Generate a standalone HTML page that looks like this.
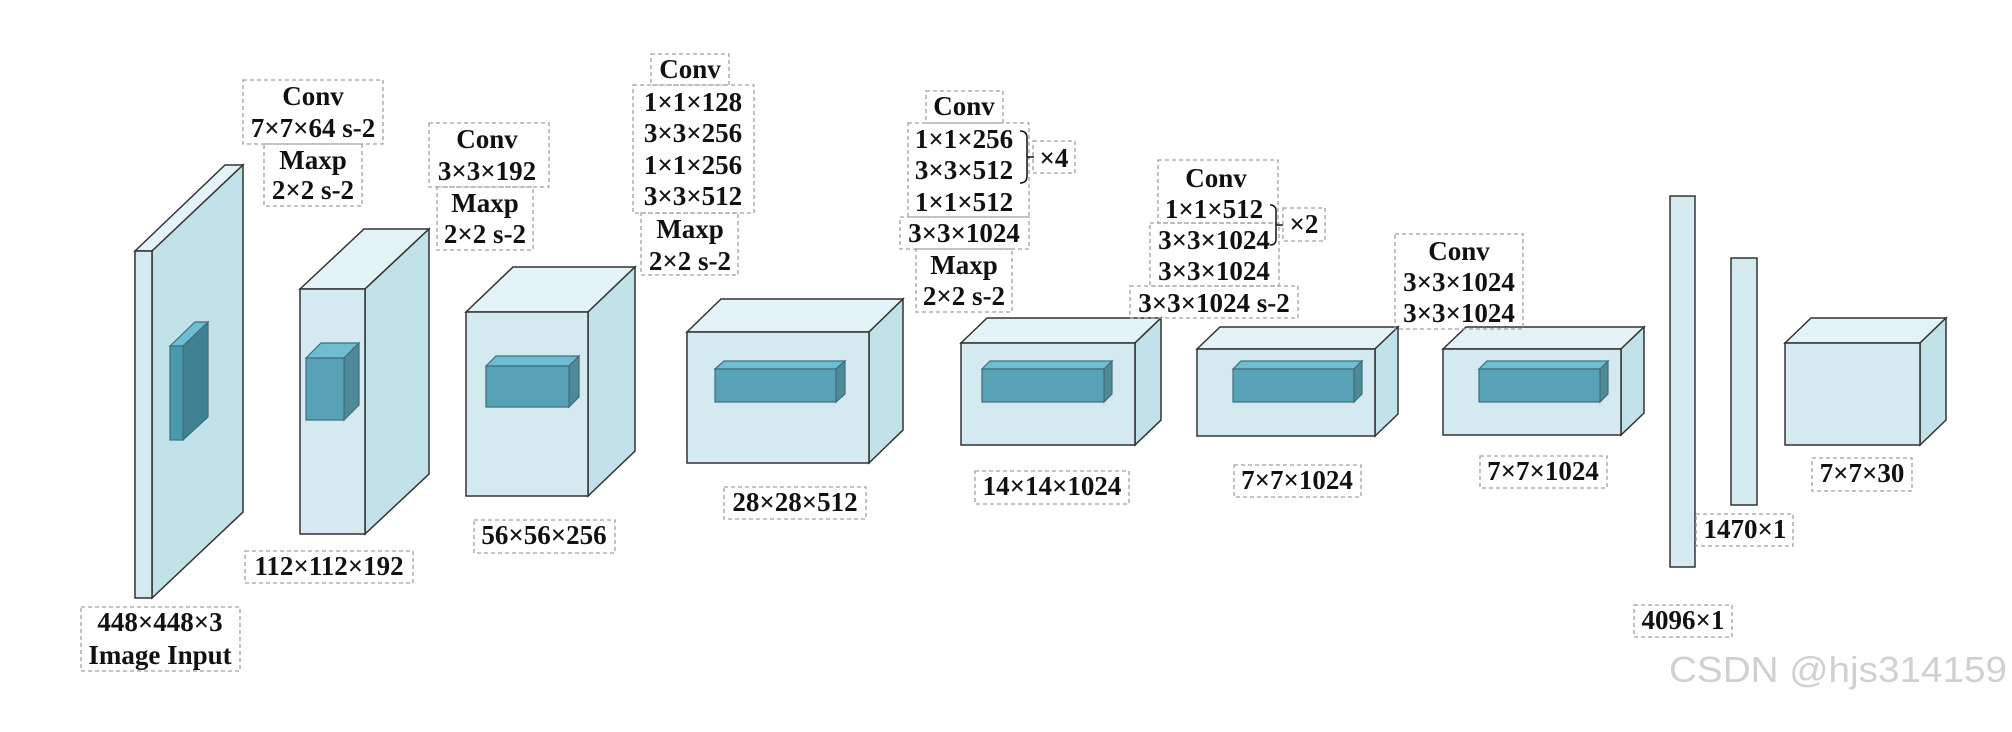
<!DOCTYPE html>
<html><head><meta charset="utf-8"><style>body{margin:0;background:#fff}svg{display:block}</style></head><body>
<svg width="2012" height="732" xmlns="http://www.w3.org/2000/svg">
<defs><style>
.t{font-family:"Liberation Serif",serif;font-weight:bold;font-size:27px;fill:#111;text-anchor:middle}
.d{fill:none;stroke:#a0a0a0;stroke-width:1.3;stroke-dasharray:4 3}
.f{fill:#d4eaf0;stroke:#333;stroke-width:1.5}
.tp{fill:#e4f3f7;stroke:#333;stroke-width:1.5}
.sd{fill:#c2e2e9;stroke:#333;stroke-width:1.5}
.if{fill:#57a2b6;stroke:#3d6f7c;stroke-width:1.2}
.it{fill:#6fbdd2;stroke:#3d6f7c;stroke-width:1.2}
.is{fill:#4e8a98;stroke:#3d6f7c;stroke-width:1.2}
</style></defs>
<g id="cubes"></g>
<!-- Block1 -->
<polygon class="tp" points="135,251 225,165 243,165 152,251"/>
<polygon class="sd" points="152,251 243,165 243,512 152,598"/>
<rect class="f" x="135" y="251" width="17" height="347"/>
<polygon class="it" points="170,346 195,322 208,322 183,346"/>
<polygon class="is" style="fill:#3f8291" points="183,346 208,322 208,417 183,440"/>
<rect class="if" style="fill:#4899ae" x="170" y="346" width="13" height="94"/>
<!-- Block2 -->
<polygon class="tp" points="300,289 364,229 429,229 365,289"/>
<polygon class="sd" points="365,289 429,229 429,474 365,534"/>
<rect class="f" x="300" y="289" width="65" height="245"/>
<polygon class="it" points="306,358 321,343 359,343 344,358"/>
<polygon class="is" points="344,358 359,343 359,405 344,420"/>
<rect class="if" x="306" y="358" width="38" height="62"/>
<!-- Block3 -->
<polygon class="tp" points="466,312 513,267 635,267 588,312"/>
<polygon class="sd" points="588,312 635,267 635,451 588,496"/>
<rect class="f" x="466" y="312" width="122" height="184"/>
<polygon class="it" points="486,366 496,356 579,356 569,366"/>
<polygon class="is" points="569,366 579,356 579,397 569,407"/>
<rect class="if" x="486" y="366" width="83" height="41"/>
<!-- Block4 -->
<polygon class="tp" points="687,332 721,299 903,299 869,332"/>
<polygon class="sd" points="869,332 903,299 903,430 869,463"/>
<rect class="f" x="687" y="332" width="182" height="131"/>
<polygon class="it" points="715,369 724,361 845,361 836,369"/>
<polygon class="is" points="836,369 845,361 845,394 836,402"/>
<rect class="if" x="715" y="369" width="121" height="33"/>
<!-- Block5 -->
<polygon class="tp" points="961,343 987,318 1161,318 1135,343"/>
<polygon class="sd" points="1135,343 1161,318 1161,420 1135,445"/>
<rect class="f" x="961" y="343" width="174" height="102"/>
<polygon class="it" points="982,369 990,361 1112,361 1104,369"/>
<polygon class="is" points="1104,369 1112,361 1112,394 1104,402"/>
<rect class="if" x="982" y="369" width="122" height="33"/>
<!-- Block6 -->
<polygon class="tp" points="1197,349 1220,327 1398,327 1375,349"/>
<polygon class="sd" points="1375,349 1398,327 1398,414 1375,436"/>
<rect class="f" x="1197" y="349" width="178" height="87"/>
<polygon class="it" points="1233,369 1241,361 1362,361 1354,369"/>
<polygon class="is" points="1354,369 1362,361 1362,394 1354,402"/>
<rect class="if" x="1233" y="369" width="121" height="33"/>
<!-- Block7 -->
<polygon class="tp" points="1443,349 1466,327 1644,327 1621,349"/>
<polygon class="sd" points="1621,349 1644,327 1644,413 1621,435"/>
<rect class="f" x="1443" y="349" width="178" height="86"/>
<polygon class="it" points="1479,369 1487,361 1608,361 1600,369"/>
<polygon class="is" points="1600,369 1608,361 1608,394 1600,402"/>
<rect class="if" x="1479" y="369" width="121" height="33"/>
<!-- Bars -->
<rect class="f" x="1670" y="196" width="25" height="371"/>
<rect class="f" x="1731" y="258" width="26" height="247"/>
<!-- Last -->
<polygon class="tp" points="1785,343 1811,318 1946,318 1920,343"/>
<polygon class="sd" points="1920,343 1946,318 1946,420 1920,445"/>
<rect class="f" x="1785" y="343" width="135" height="102"/>

<!-- Labels -->
<rect class="d" x="81" y="607" width="159" height="64"/>
<text class="t" x="160" y="631">448×448×3</text><text class="t" x="160" y="664">Image Input</text>
<rect class="d" x="245" y="551" width="168" height="32"/><text class="t" x="329" y="575">112×112×192</text>
<rect class="d" x="243" y="80" width="140" height="64"/>
<text class="t" x="313" y="105">Conv</text><text class="t" x="313" y="137">7×7×64 s-2</text>
<rect class="d" x="264" y="144" width="98" height="62"/>
<text class="t" x="313" y="169">Maxp</text><text class="t" x="313" y="199">2×2 s-2</text>
<rect class="d" x="429" y="123" width="120" height="64"/>
<text class="t" x="487" y="148">Conv</text><text class="t" x="487" y="180">3×3×192</text>
<rect class="d" x="437" y="187" width="96" height="63"/>
<text class="t" x="485" y="212">Maxp</text><text class="t" x="485" y="243">2×2 s-2</text>
<rect class="d" x="474" y="520" width="141" height="33"/><text class="t" x="544" y="544">56×56×256</text>

<rect class="d" x="651" y="54" width="78" height="31"/><text class="t" x="690" y="78">Conv</text>
<rect class="d" x="633" y="85" width="121" height="128"/>
<text class="t" x="693" y="111">1×1×128</text><text class="t" x="693" y="142">3×3×256</text>
<text class="t" x="693" y="174">1×1×256</text><text class="t" x="693" y="205">3×3×512</text>
<rect class="d" x="641" y="213" width="97" height="62"/>
<text class="t" x="690" y="238">Maxp</text><text class="t" x="690" y="270">2×2 s-2</text>
<rect class="d" x="724" y="487" width="142" height="32"/><text class="t" x="795" y="511">28×28×512</text>

<rect class="d" x="926" y="91" width="77" height="32"/><text class="t" x="964" y="115">Conv</text>
<rect class="d" x="908" y="123" width="121" height="94"/>
<text class="t" x="964" y="148">1×1×256</text><text class="t" x="964" y="179">3×3×512</text><text class="t" x="964" y="211">1×1×512</text>
<rect class="d" x="900" y="217" width="129" height="32"/><text class="t" x="964" y="242">3×3×1024</text>
<rect class="d" x="916" y="249" width="96" height="63"/>
<text class="t" x="964" y="274">Maxp</text><text class="t" x="964" y="305">2×2 s-2</text>
<path d="M1020,131 Q1027,131 1027,138 L1027,176 Q1027,183 1020,183 M1027,157 L1034,157" fill="none" stroke="#111" stroke-width="1.5"/>
<rect class="d" x="1033" y="141" width="42" height="32"/><text class="t" x="1054" y="167">×4</text>
<rect class="d" x="975" y="471" width="154" height="33"/><text class="t" x="1052" y="495">14×14×1024</text>

<rect class="d" x="1158" y="160" width="120" height="63"/>
<text class="t" x="1216" y="187">Conv</text><text class="t" x="1214" y="218">1×1×512</text>
<rect class="d" x="1150" y="223" width="129" height="63"/>
<text class="t" x="1214" y="249">3×3×1024</text><text class="t" x="1214" y="280">3×3×1024</text>
<rect class="d" x="1130" y="286" width="168" height="32"/><text class="t" x="1214" y="312">3×3×1024 s-2</text>
<path d="M1270,205 Q1276,205 1276,211 L1276,239 Q1276,245 1270,245 M1276,225 L1283,225" fill="none" stroke="#111" stroke-width="1.5"/>
<rect class="d" x="1283" y="208" width="42" height="33"/><text class="t" x="1304" y="233">×2</text>
<rect class="d" x="1234" y="465" width="127" height="32"/><text class="t" x="1297" y="489">7×7×1024</text>

<rect class="d" x="1395" y="234" width="128" height="95"/>
<text class="t" x="1459" y="260">Conv</text><text class="t" x="1459" y="291">3×3×1024</text><text class="t" x="1459" y="322">3×3×1024</text>
<rect class="d" x="1480" y="456" width="127" height="32"/><text class="t" x="1543" y="480">7×7×1024</text>

<rect class="d" x="1696" y="514" width="97" height="32"/><text class="t" x="1745" y="538">1470×1</text>
<rect class="d" x="1634" y="605" width="98" height="32"/><text class="t" x="1683" y="629">4096×1</text>
<rect class="d" x="1812" y="458" width="100" height="33"/><text class="t" x="1862" y="482">7×7×30</text>

<text x="1669" y="682" font-family="Liberation Sans, sans-serif" font-size="36" fill="#d0d0d0" textLength="338" lengthAdjust="spacingAndGlyphs">CSDN @hjs314159</text>
</svg>
</body></html>
